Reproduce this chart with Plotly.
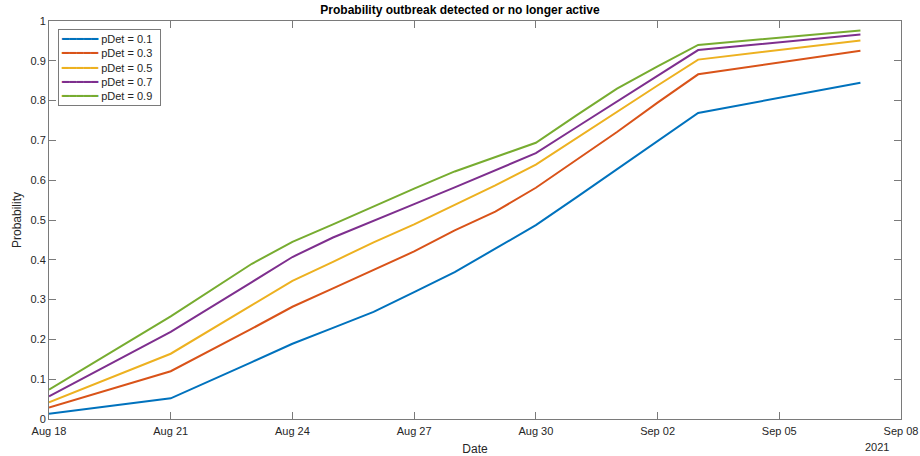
import plotly.graph_objects as go

dates = ["2021-08-18", "2021-08-21", "2021-08-23", "2021-08-24", "2021-08-25",
         "2021-08-26", "2021-08-27", "2021-08-28", "2021-08-29", "2021-08-30",
         "2021-08-31", "2021-09-01", "2021-09-02", "2021-09-03", "2021-09-07"]

p01 = [0.013, 0.052, 0.143, 0.189, 0.229, 0.269, 0.319, 0.369, 0.428, 0.487,
       0.557, 0.628, 0.699, 0.769, 0.845]
p03 = [0.029, 0.120, 0.227, 0.282, 0.328, 0.375, 0.421, 0.474, 0.521, 0.581,
       0.650, 0.721, 0.795, 0.866, 0.925]
p05 = [0.042, 0.164, 0.286, 0.347, 0.395, 0.444, 0.489, 0.538, 0.587, 0.639,
       0.706, 0.771, 0.838, 0.903, 0.951]
p07 = [0.057, 0.219, 0.344, 0.407, 0.456, 0.499, 0.540, 0.582, 0.625, 0.668,
       0.733, 0.797, 0.862, 0.927, 0.966]
p09 = [0.074, 0.258, 0.390, 0.445, 0.489, 0.535, 0.579, 0.622, 0.659, 0.694,
       0.763, 0.830, 0.886, 0.940, 0.976]

names = ["pDet = 0.1", "pDet = 0.3", "pDet = 0.5", "pDet = 0.7", "pDet = 0.9"]
series = [p01, p03, p05, p07, p09]
colors = ["#0072BD", "#D95319", "#EDB120", "#7E2F8E", "#77AC30"]

xticks = ["2021-08-18", "2021-08-21", "2021-08-24", "2021-08-27", "2021-08-30",
          "2021-09-02", "2021-09-05", "2021-09-08"]
xticklabels = ["Aug 18", "Aug 21", "Aug 24", "Aug 27", "Aug 30", "Sep 02", "Sep 05", "Sep 08"]

fig = go.Figure()
for n, s, c in zip(names, series, colors):
    fig.add_trace(go.Scatter(x=dates, y=s, mode="lines", name=n,
                             line=dict(color=c, width=2), showlegend=False))

axis_color = "#7a7a7a"
font_family = "Liberation Sans, Arial, Helvetica, sans-serif"

fig.update_layout(
    width=920, height=456,
    margin=dict(l=49, r=19, t=21, b=37, autoexpand=False),
    paper_bgcolor="white", plot_bgcolor="white",
    font=dict(family=font_family, size=11, color="#262626"),
    title=dict(text="<b>Probability outbreak detected or no longer active</b>",
               x=0.5, xanchor="center", y=0.978, yanchor="middle",
               font=dict(size=12, color="black")),
    showlegend=False,
    xaxis=dict(
        range=["2021-08-18", "2021-09-08"], automargin=False,
        tickmode="array", tickvals=xticks, ticktext=xticklabels,
        ticks="inside", ticklen=7, tickcolor=axis_color,
        showline=True, linecolor=axis_color, linewidth=1, mirror="ticks",
        showgrid=False, zeroline=False, ticklabelstandoff=2,
        title=dict(text="Date", standoff=8, font=dict(size=12)),
        tickfont=dict(size=11),
    ),
    yaxis=dict(
        range=[0, 1], dtick=0.1, tick0=0, automargin=False,
        ticks="inside", ticklen=7, tickcolor=axis_color,
        showline=True, linecolor=axis_color, linewidth=1, mirror="ticks",
        showgrid=False, zeroline=False,
        title=dict(text="Probability", standoff=6, font=dict(size=12)),
        tickfont=dict(size=11),
    ),
)

# Compact MATLAB-style legend box built from the series names and colours
legend_lines = []
for n, c in zip(names, colors):
    legend_lines.append(
        f"<span style='color:{c};font-family:DejaVu Sans;font-size:12px'>━━━━━</span> {n}&nbsp;&nbsp;")
fig.add_annotation(x=0.0106, y=0.98, xref="paper", yref="paper",
                   xanchor="left", yanchor="top", align="left",
                   text="<br>".join(legend_lines), showarrow=False,
                   bgcolor="white", bordercolor=axis_color, borderwidth=1,
                   borderpad=2, font=dict(size=11, color="#262626"))

fig.add_annotation(x="2021-09-08", y=0, xref="x", yref="paper",
                   text="2021", showarrow=False, xanchor="right", yanchor="top",
                   xshift=-10, yshift=-20, font=dict(size=11, color="#262626"))

fig.write_html("out.html")
